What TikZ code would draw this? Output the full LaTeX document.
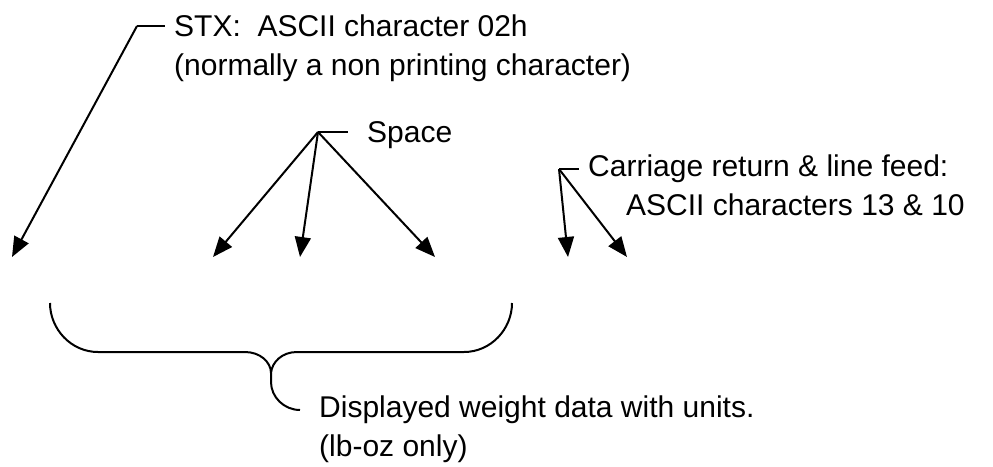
\documentclass[tikz,border=0pt]{standalone}
\usepackage{fontspec}
\setmainfont{Liberation Sans}
\usetikzlibrary{arrows.meta}

\begin{document}
\begin{tikzpicture}[x=1pt,y=-1pt,
        every node/.style={font=\fontsize{30}{38.5}\selectfont, align=left, inner ysep=0pt},
        note/.style={anchor=base west, inner xsep=#1},
        lead/.style={line width=2pt},
        pointer/.style={line width=2pt, -{Triangle[length=20pt,width=16pt]}}]
            \useasboundingbox (0,0) rectangle (993,466);
            % texts (base = last line)
            \node [note=9pt] (stx) at (165,75) {STX:\ \ ASCII character 02h\\(normally a non printing character)};
            \node [note=19pt] (space) at (348,142) {Space};
            \node [note=9pt] (crlf) at (579,215) {Carriage return \& line feed:\\\hspace*{38pt}ASCII characters 13 \& 10};
            \node [note=19pt] (weight) at (300,456) {Displayed weight data with units.\\(lb-oz only)};
            % knees and tips
            \coordinate (stxknee) at (137,26);
            \coordinate (stxtip) at (12,257);
            \coordinate (spaceknee) at (318,132);
            \coordinate (spacetipa) at (213,257);
            \coordinate (spacetipb) at (300,257);
            \coordinate (spacetipc) at (435,257);
            \coordinate (crknee) at (559,169);
            \coordinate (crtipa) at (568,257);
            \coordinate (crtipb) at (627,257);
            % leaders
            \draw [lead] (stxknee) -- (stxknee -| stx.west);
            \draw [lead] (spaceknee) -- (spaceknee -| space.west);
            \draw [lead] (crknee) -- (crknee -| crlf.west);
            % arrows
            \draw [pointer] (stxknee) -- (stxtip);
            \draw [pointer] (spaceknee) -- (spacetipa);
            \draw [pointer] (spaceknee) -- (spacetipb);
            \draw [pointer] (spaceknee) -- (spacetipc);
            \draw [pointer] (crknee) -- (crtipa);
            \draw [pointer] (crknee) -- (crtipb);
            % brace
            \draw [lead] (50,303) .. controls (50,329) and (71,352) .. (98,352) -- (245,352)
                .. controls (260,352) and (271,362) .. (271,373)
                .. controls (272,362) and (282,352) .. (297,352) -- (464,352)
                .. controls (491,352) and (512,329) .. (512,303);
            \draw [lead] (271,373) -- (271,382) .. controls (271,397) and (284,410) .. (weight.west |- 0,410);
        \end{tikzpicture}
\end{document}
